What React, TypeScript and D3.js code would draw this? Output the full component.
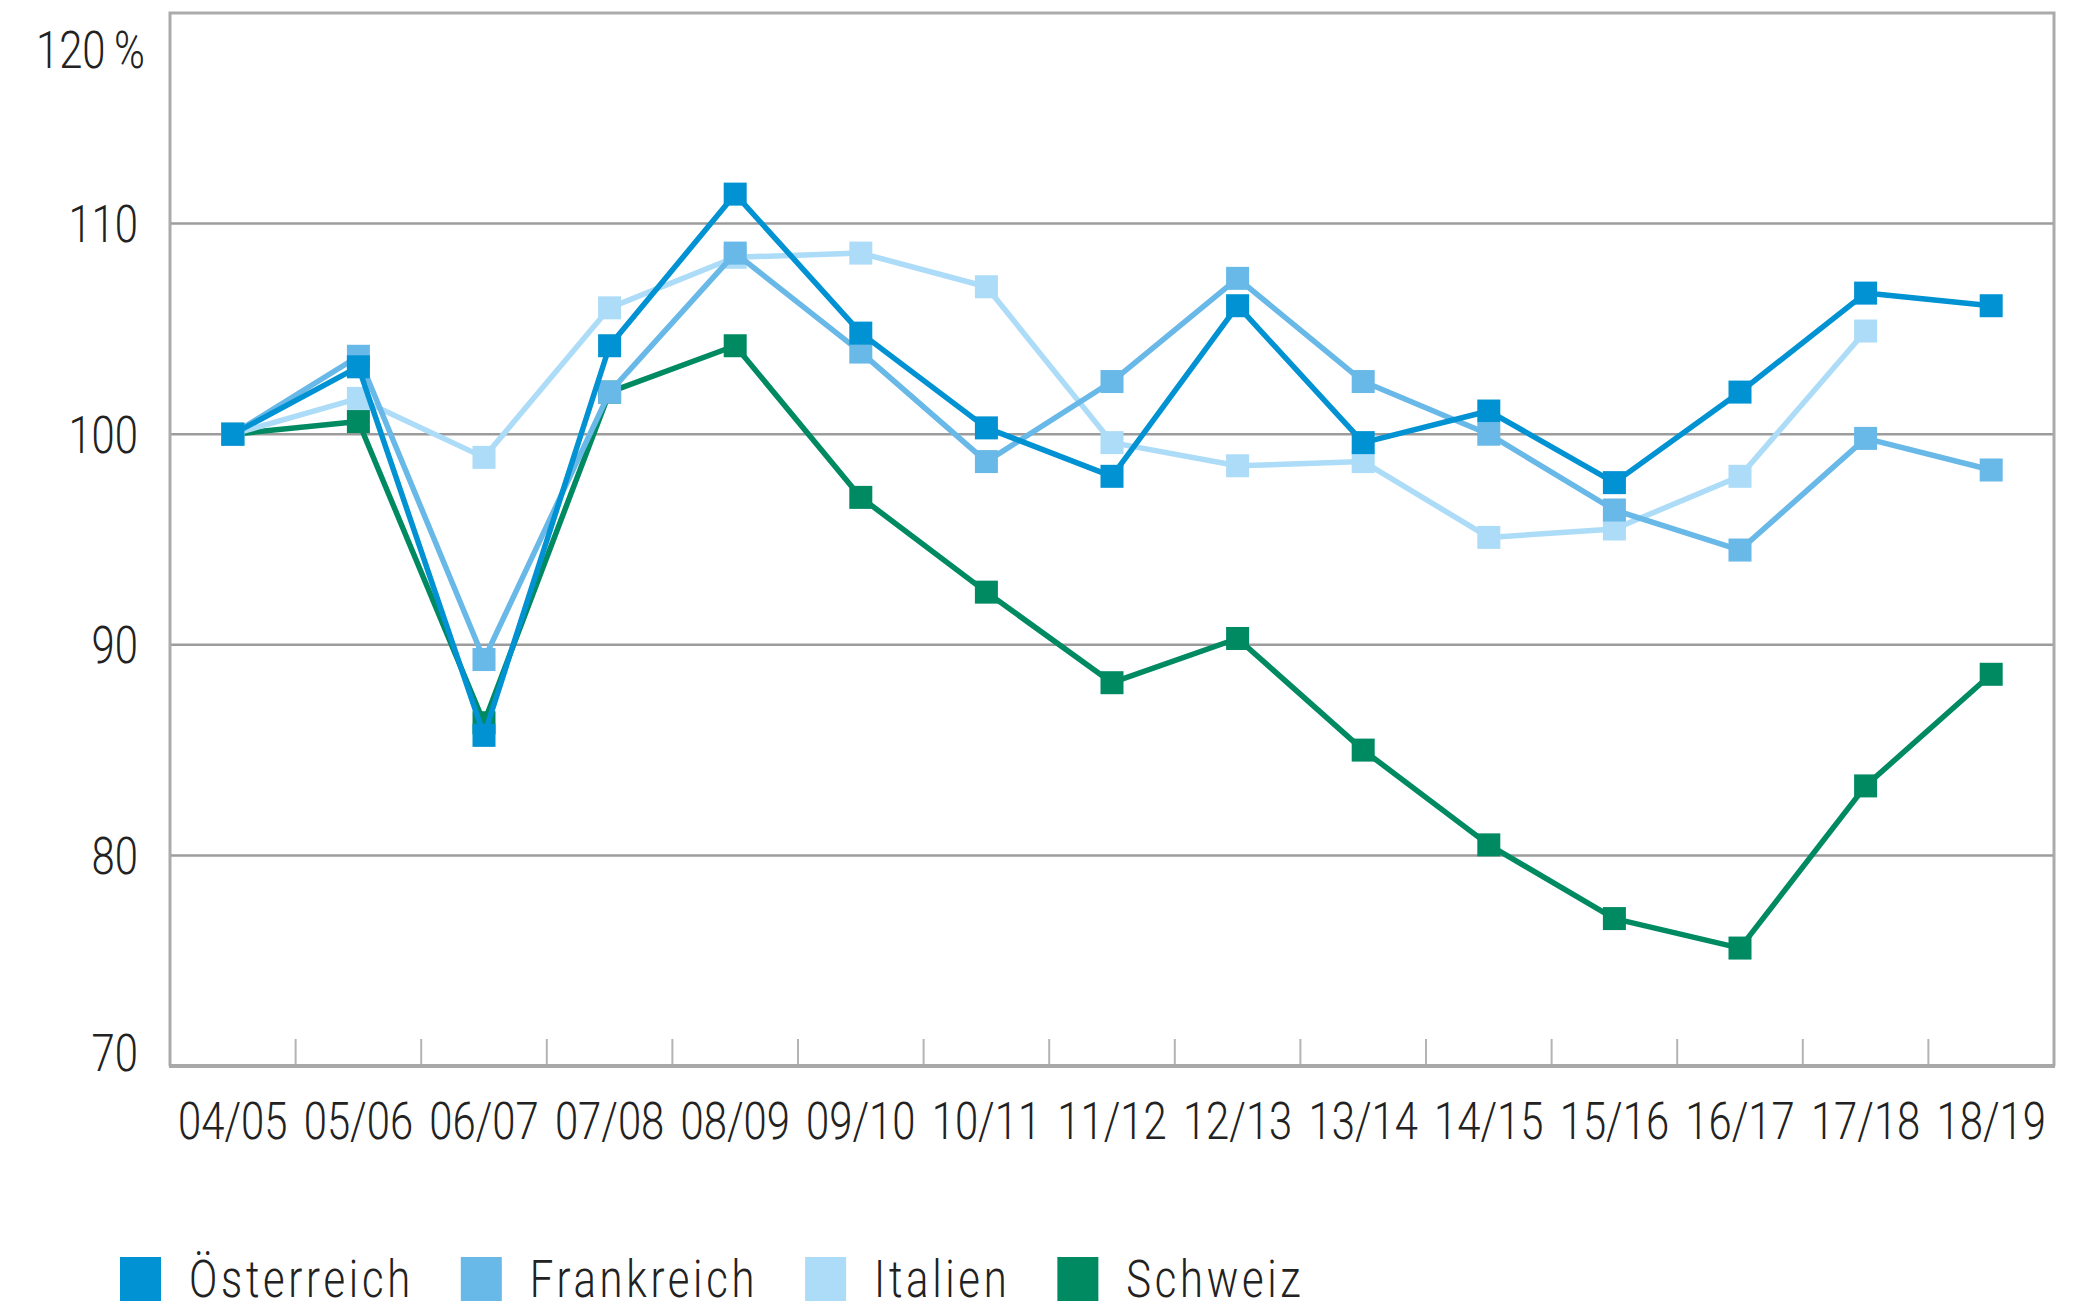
import * as d3 from "d3";
import { useEffect, useRef } from "react";

const seasons = [
  "04/05", "05/06", "06/07", "07/08", "08/09", "09/10", "10/11", "11/12",
  "12/13", "13/14", "14/15", "15/16", "16/17", "17/18", "18/19",
];

const oesterreich = [100, 103.2, 85.7, 104.2, 111.4, 104.8, 100.3, 98.0, 106.1, 99.6, 101.1, 97.7, 102.0, 106.7, 106.1];
const frankreich = [100, 103.7, 89.3, 102.0, 108.6, 103.9, 98.7, 102.5, 107.4, 102.5, 100.0, 96.4, 94.5, 99.8, 98.3];
const italien = [100, 101.7, 98.9, 106.0, 108.4, 108.6, 107.0, 99.6, 98.5, 98.7, 95.1, 95.5, 98.0, 104.9, null];
const schweiz = [100, 100.6, 86.3, 102.0, 104.2, 97.0, 92.5, 88.2, 90.3, 85.0, 80.5, 77.0, 75.6, 83.3, 88.6];

const yTicks = [70, 80, 90, 100, 110, 120];

type Series = { name: string; color: string; values: (number | null)[] };

// legend order (drawing order is reversed so Österreich sits on top)
const series: Series[] = [
  { name: "Österreich", color: "#0092d2", values: oesterreich },
  { name: "Frankreich", color: "#68b8e8", values: frankreich },
  { name: "Italien", color: "#acdcf7", values: italien },
  { name: "Schweiz", color: "#008a62", values: schweiz },
];

const FONT = "Roboto, 'DejaVu Sans', sans-serif";
const SQUEEZE = 0.82; // condensed look
const FS = 51;

export const IndexChart = ({ width = 2097, height = 1312 }) => {
  const ref = useRef<SVGSVGElement>(null);

  useEffect(() => {
    if (!ref.current) return;
    const svg = d3.select(ref.current);
    svg.selectAll("*").remove();

    const left = 170, right = 2054, top = 13, bottom = 1066;

    const x = d3.scaleBand<string>().domain(seasons).range([left, right]).padding(0);
    const y = d3.scaleLinear().domain([70, 120]).range([bottom, top]);
    const cx = (s: string) => (x(s) ?? 0) + x.bandwidth() / 2;

    // gridlines
    svg
      .append("g")
      .selectAll("line")
      .data(yTicks.filter((t) => t > 70 && t < 120))
      .enter()
      .append("line")
      .attr("x1", left)
      .attr("x2", right)
      .attr("y1", (d) => y(d))
      .attr("y2", (d) => y(d))
      .attr("stroke", "#9c9c9c")
      .attr("stroke-width", 2.5);

    // frame
    svg
      .append("path")
      .attr("d", `M${left},${bottom} V${top} H${right} V${bottom}`)
      .attr("fill", "none")
      .attr("stroke", "#ababab")
      .attr("stroke-width", 3);

    // x ticks at band borders
    svg
      .append("g")
      .selectAll("line")
      .data(seasons.slice(1))
      .enter()
      .append("line")
      .attr("x1", (d) => x(d) ?? 0)
      .attr("x2", (d) => x(d) ?? 0)
      .attr("y1", bottom)
      .attr("y2", bottom - 27)
      .attr("stroke", "#b4b4b4")
      .attr("stroke-width", 2);

    // bottom axis line
    svg
      .append("line")
      .attr("x1", left - 1)
      .attr("x2", right + 1)
      .attr("y1", bottom)
      .attr("y2", bottom)
      .attr("stroke", "#a8a8a8")
      .attr("stroke-width", 4);

    // y labels
    svg
      .append("g")
      .selectAll("text")
      .data(yTicks)
      .enter()
      .append("text")
      .attr("transform", (d) => {
        const ty = d === 120 ? y(d) + 37 : d === 70 ? y(d) - 13 : y(d);
        return `translate(${d === 120 ? 145 : 138},${ty}) scale(${SQUEEZE},1)`;
      })
      .attr("dy", "0.36em")
      .attr("text-anchor", "end")
      .attr("font-family", FONT)
      .attr("font-weight", 300)
      .attr("font-size", FS)
      .attr("fill", "#222")
      .text((d) => (d === 120 ? "120\u2009%" : `${d}`));

    // x labels
    svg
      .append("g")
      .selectAll("text")
      .data(seasons)
      .enter()
      .append("text")
      .attr("transform", (d) => `translate(${cx(d)},1139) scale(${SQUEEZE},1)`)
      .attr("text-anchor", "middle")
      .attr("font-family", FONT)
      .attr("font-weight", 300)
      .attr("font-size", FS)
      .attr("fill", "#222")
      .text((d) => d);

    // lines + markers, Schweiz first
    const line = d3
      .line<number | null>()
      .defined((d) => d !== null)
      .x((_, i) => cx(seasons[i]))
      .y((d) => y(d as number));

    const marker = 23;
    [...series].reverse().forEach((s) => {
      const g = svg.append("g");
      g.append("path")
        .attr("d", line(s.values) ?? "")
        .attr("fill", "none")
        .attr("stroke", s.color)
        .attr("stroke-width", 5.5)
        .attr("stroke-linejoin", "round");
      g.selectAll("rect")
        .data(s.values.map((v, i) => ({ v, i })).filter((d) => d.v !== null))
        .enter()
        .append("rect")
        .attr("x", (d) => cx(seasons[d.i]) - marker / 2)
        .attr("y", (d) => y(d.v as number) - marker / 2)
        .attr("width", marker)
        .attr("height", marker)
        .attr("fill", s.color);
    });

    // legend
    const legend = svg.append("g").attr("transform", "translate(120, 1257)");
    let lx = 0;
    series.forEach((s) => {
      const item = legend.append("g").attr("transform", `translate(${lx}, 0)`);
      item
        .append("rect")
        .attr("width", 41)
        .attr("height", 44)
        .attr("fill", s.color);
      const t = item
        .append("text")
        .attr("transform", `translate(69,40) scale(${SQUEEZE},1)`)
        .attr("font-family", FONT)
        .attr("font-weight", 300)
        .attr("font-size", FS)
        .attr("letter-spacing", 4.5)
        .attr("fill", "#222")
        .text(s.name);
      const w = (t.node() as SVGTextElement).getComputedTextLength() * SQUEEZE;
      lx += 69 + w + 47;
    });
  }, [width, height]);

  return <svg ref={ref} width={width} height={height} style={{ display: "block" }} />;
};

export default function App() {
  useEffect(() => {
    document.body.style.margin = "0";
  }, []);
  return <IndexChart />;
}
